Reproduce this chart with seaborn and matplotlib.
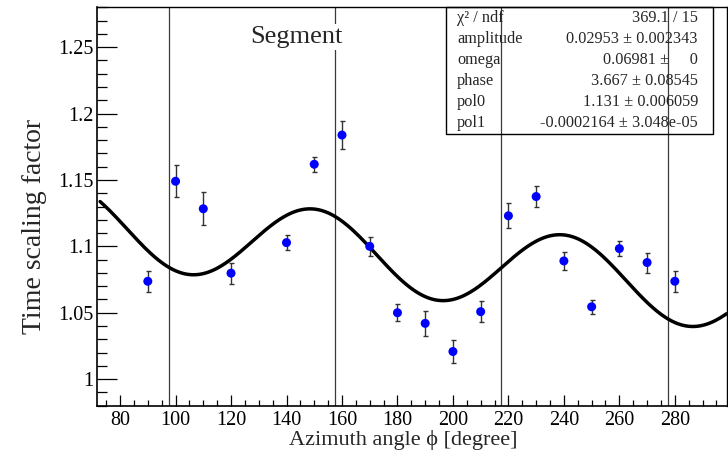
import numpy as np
import pandas as pd
import matplotlib
matplotlib.use("Agg")
import matplotlib.pyplot as plt
from matplotlib.patches import Rectangle
from matplotlib.ticker import MultipleLocator, FuncFormatter
import seaborn as sns

# Measured time scaling factor per azimuth bin
angle = [90, 100, 110, 120, 140, 150, 160, 170, 180, 190,
         200, 210, 220, 230, 240, 250, 260, 270, 280]
scale = [1.0737, 1.149, 1.1283, 1.0798, 1.1028, 1.1618, 1.1838, 1.100, 1.050, 1.042,
         1.0208, 1.0508, 1.123, 1.1375, 1.089, 1.0545, 1.0983, 1.0878, 1.0737]
scale_err = [0.0078, 0.012, 0.0123, 0.0078, 0.0055, 0.0056, 0.0104, 0.0069, 0.0063, 0.0096,
             0.0083, 0.0079, 0.0095, 0.008, 0.0066, 0.0054, 0.0059, 0.0075, 0.0079]

# Segment boundaries in azimuth
segment_edges = [97.5, 157.5, 217.5, 277.5]

# Fit: amplitude*sin(omega*x + phase) + pol0 + pol1*x
amplitude = 0.02953
omega = 0.06981
phase = 3.667
pol0 = 1.131
pol1 = -0.0002164
fit_range = (72.8, 298.6)

stat_names = ["χ² / ndf", "amplitude", "omega", "phase", "pol0", "pol1"]
stat_values = ["369.1 / 15", "0.02953 ± 0.002343", "0.06981 ±     0",
               "3.667 ± 0.08545", "1.131 ± 0.006059", "-0.0002164 ± 3.048e-05"]

sns.set_theme(style="ticks")
plt.rcParams["font.family"] = ["Liberation Serif", "DejaVu Serif"]

W, H = 728, 453
fig = plt.figure(figsize=(W / 100, H / 100), dpi=100)
left_px, right_px, top_px, bottom_px = 96.5, 726.7, 7.3, 405.7
ax = fig.add_axes([left_px / W, 1 - bottom_px / H,
                   (right_px - left_px) / W, (bottom_px - top_px) / H])

points = pd.DataFrame({"angle": angle, "scale": scale, "err": scale_err})
xf = np.linspace(fit_range[0], fit_range[1], 600)
fit = pd.DataFrame({"angle": xf,
                    "scale": amplitude * np.sin(omega * xf + phase) + pol0 + pol1 * xf})

# segment boundaries
for xe in segment_edges:
    ax.axvline(xe, color="#3a3a3a", lw=0.9, zorder=1)

sns.lineplot(data=fit, x="angle", y="scale", color="black", linewidth=2.5, ax=ax, zorder=2)
ax.errorbar(points["angle"], points["scale"], yerr=points["err"], fmt="none",
            ecolor="#333333", elinewidth=1.0, capsize=1.8, capthick=1.0, zorder=3)
sns.scatterplot(data=points, x="angle", y="scale", color="#0000ff", s=42,
                edgecolor="none", linewidth=0, ax=ax, zorder=4)

ax.set_xlim(71.5, 298.7)
ax.set_ylim(0.98, 1.28)

ax.xaxis.set_major_locator(MultipleLocator(20))
ax.xaxis.set_minor_locator(MultipleLocator(5))
ax.yaxis.set_major_locator(MultipleLocator(0.05))
ax.yaxis.set_minor_locator(MultipleLocator(0.01))
ax.yaxis.set_major_formatter(FuncFormatter(lambda v, p: f"{v:g}"))
ax.xaxis.set_major_formatter(FuncFormatter(lambda v, p: f"{v:g}"))

ax.tick_params(axis="both", which="both", direction="in", top=False, right=False,
               colors="black", labelsize=14.5, width=0.9)
ax.tick_params(axis="y", which="major", length=14.4, pad=2)
ax.tick_params(axis="y", which="minor", length=7.2)
ax.tick_params(axis="x", which="major", length=7.9, pad=4)
ax.tick_params(axis="x", which="minor", length=4.0)

for side in ["left", "bottom"]:
    ax.spines[side].set_linewidth(1.2)
for side in ["top", "right"]:
    ax.spines[side].set_linewidth(1.0)
for s in ax.spines.values():
    s.set_color("black")

ax.set_xlabel("Azimuth angle ϕ [degree]", fontsize=16, ha="center", va="center")
ax.set_ylabel("Time scaling factor", fontsize=20, ha="center", va="center")
ax.xaxis.set_label_coords((403 - left_px) / (right_px - left_px),
                          (bottom_px - 440) / (bottom_px - top_px))
ax.yaxis.set_label_coords((35 - left_px) / (right_px - left_px),
                          (bottom_px - 226) / (bottom_px - top_px))

ax.text((296 - left_px) / (right_px - left_px), (bottom_px - 43) / (bottom_px - top_px),
        "Segment", transform=ax.transAxes, ha="center", va="baseline", fontsize=19,
        zorder=6, bbox=dict(facecolor="white", edgecolor="none", pad=1.5))

# fit statistics box
bx0, bx1, by0, by1 = 446, 713, 7, 134
fig.add_artist(Rectangle((bx0 / W, 1 - by1 / H), (bx1 - bx0) / W, (by1 - by0) / H,
                         transform=fig.transFigure, fill=False, ec="black", lw=1.0))
row_h = (by1 - by0) / len(stat_names)
for i, (name, val) in enumerate(zip(stat_names, stat_values)):
    yc = by0 + row_h * (i + 0.5)
    fig.text(457 / W, 1 - yc / H, name, ha="left", va="center", fontsize=11.7)
    fig.text(698 / W, 1 - yc / H, val, ha="right", va="center", fontsize=11.7)

fig.savefig("out.png", dpi=100)
